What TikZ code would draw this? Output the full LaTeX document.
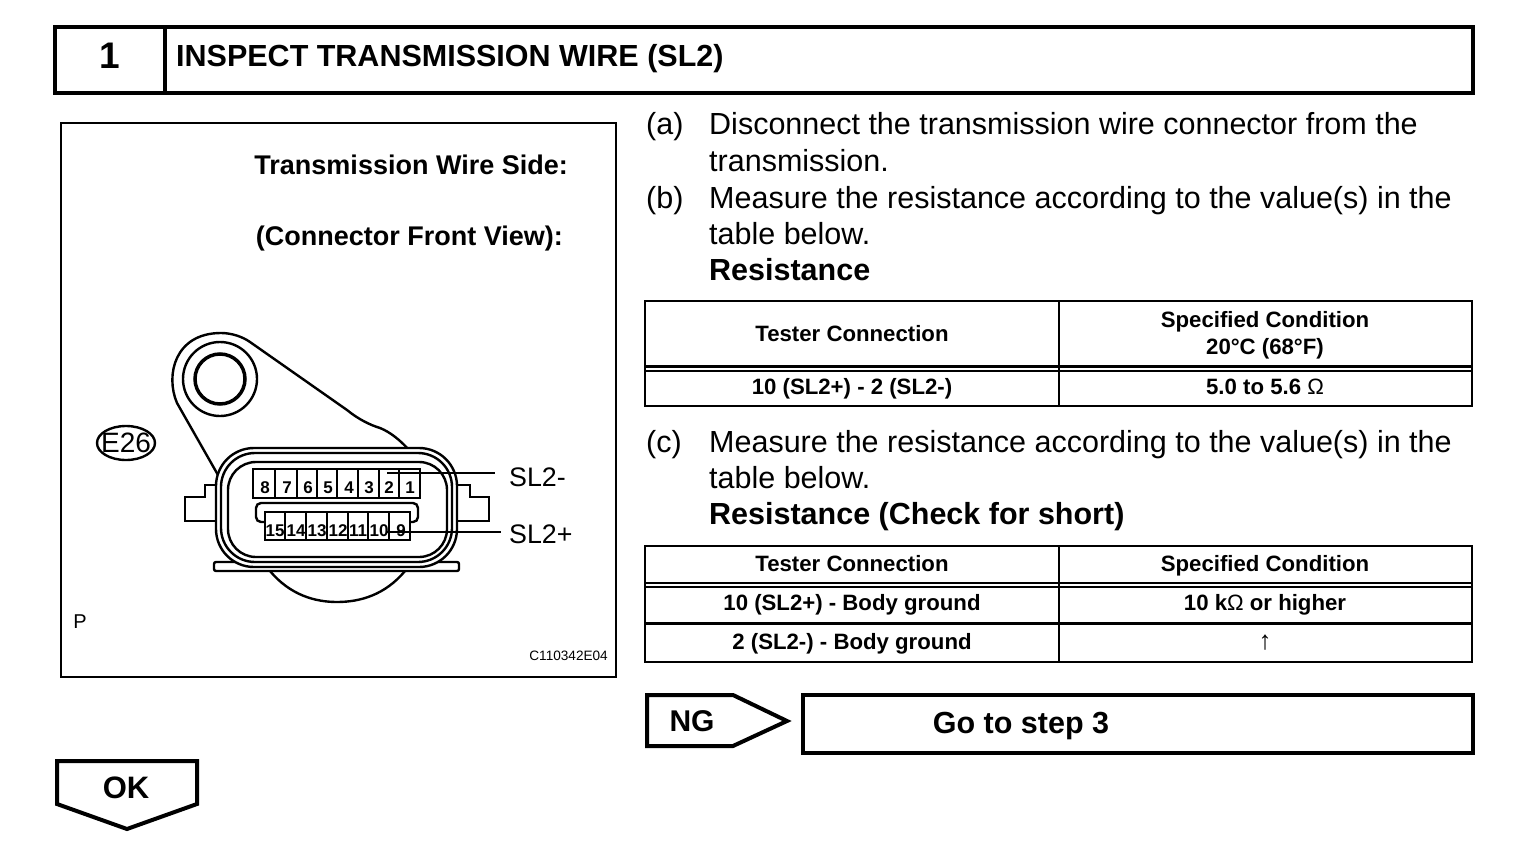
\documentclass[tikz,border=0pt]{standalone}
\usepackage{fontspec}
\setmainfont{Liberation Sans}
\usetikzlibrary{positioning, calc, shapes}
\tikzset{
  bodytext/.style={inner sep=0pt,anchor=base west,font=\fontsize{30.5}{36}\selectfont},
  headtext/.style={inner sep=0pt,anchor=base west,font=\fontsize{30.5}{36}\selectfont\bfseries},
  celltext/.style={inner sep=0pt,anchor=base,font=\fontsize{22.2}{27}\selectfont\bfseries},
  figtext/.style={inner sep=0pt,anchor=base east,font=\fontsize{27}{30}\selectfont\bfseries},
  pintext/.style={inner sep=0pt,anchor=base,font=\fontsize{17}{17}\selectfont\bfseries},
  thickbox/.style={line width=4pt},
  thinbox/.style={line width=2pt},
  wire/.style={line width=2.4pt}
}
\begin{document}
\begin{tikzpicture}[x=1pt,y=-1pt]
        \useasboundingbox (0,0) rectangle (1536,856);
        % Title bar
        \draw[thickbox] (55,27) rectangle (1473,93);
        \draw[thickbox] (165,27) -- (165,93);
        \draw (110,69) node[inner sep=0pt,anchor=base,font=\fontsize{37}{37}\selectfont\bfseries] (step_no){1};
        \draw (176,67) node[headtext] (title){INSPECT TRANSMISSION WIRE (SL2)};
        % Figure frame
        \draw[thinbox] (61,123) rectangle (616,677);
        \draw (568,174) node[figtext] (fig_side){Transmission Wire Side:};
        \draw (563,245) node[figtext] (fig_view){(Connector Front View):};
        \draw (126,443) node[ellipse,draw,line width=2.4pt,minimum width=58pt,minimum height=34pt,inner ysep=0pt,inner xsep=-5.5pt,font=\fontsize{28}{28}\selectfont] (e26){E26};
        \draw (80,622) node[inner sep=0pt,font=\fontsize{20}{20}\selectfont] (fig_p){P};
        \draw (608,656) node[inner sep=0pt,anchor=east,font=\fontsize{13.6}{15}\selectfont] (fig_code){C110342E04};
        % Bracket
        \draw[wire] (218,475) -- (177,403) .. controls (165,375) and (175,333) .. (221,333)
          .. controls (232,333) and (243,337) .. (250,342) -- (347,410)
          .. controls (358,419) and (370,425) .. (380,428) .. controls (390,432) and (400,440) .. (408,449);
        \draw[wire] (220,379) circle (37);
        \draw[line width=3.5pt] (220,379) circle (25);
        % Tabs and base
        \draw[wire] (217,485) -- (205,485) -- (205,497) -- (185,497) -- (185,521) -- (217,521);
        \draw[wire] (457,485) -- (470,485) -- (470,497) -- (489,497) -- (489,521) -- (457,521);
        \draw[wire] (270,571) .. controls (290,595) and (315,602) .. (337,602) .. controls (360,602) and (385,595) .. (405,571);
        \draw[wire,rounded corners=2pt] (214,562) rectangle (459,571);
        % Connector shell
        \draw[wire,fill=white,rounded corners=38pt] (216,448) rectangle (457,567);
        \draw[wire,rounded corners=34pt] (221,453) rectangle (452,562);
        \draw[wire,rounded corners=28pt] (228,462) rectangle (447,557);
        % Upper pins
        \draw[wire,rounded corners=5pt] (256,503) rectangle (418,522);
        \draw[wire] (253,469) rectangle (420,498);
        \draw (265,493) node[pintext] (pin_8){8};
        \draw (287,493) node[pintext] (pin_7){7};
        \draw (308,493) node[pintext] (pin_6){6};
        \draw (328,493) node[pintext] (pin_5){5};
        \draw (349,493) node[pintext] (pin_4){4};
        \draw (369,493) node[pintext] (pin_3){3};
        \draw (389,493) node[pintext] (pin_2){2};
        \draw (410,493) node[pintext] (pin_1){1};
        \draw[thinbox] (275,469) -- (275,498) (297,469) -- (297,498) (317,469) -- (317,498) (337,469) -- (337,498);
        \draw[thinbox] (358,469) -- (358,498) (379,469) -- (379,498) (399,469) -- (399,498);
        % Lower pins
        \draw[wire,fill=white] (265,512) rectangle (410,540);
        \draw (275,536) node[pintext] (pin_15){15};
        \draw (296,536) node[pintext] (pin_14){14};
        \draw (317,536) node[pintext] (pin_13){13};
        \draw (338,536) node[pintext] (pin_12){12};
        \draw (358,536) node[pintext] (pin_11){11};
        \draw (379,536) node[pintext] (pin_10){10};
        \draw (401,536) node[pintext] (pin_9){9};
        \draw[thinbox] (285,512) -- (285,540) (306,512) -- (306,540) (327,512) -- (327,540) (348,512) -- (348,540);
        \draw[thinbox] (368,512) -- (368,540) (389,512) -- (389,540);
        % Leaders
        \draw (509,477) node[inner sep=0pt,anchor=west,font=\fontsize{26.8}{26}\selectfont] (sl2_m){SL2-};
        \draw (509,534) node[inner sep=0pt,anchor=west,font=\fontsize{26.8}{26}\selectfont] (sl2_p){SL2+};
        \coordinate (sl2_m_pin) at (387,473);
        \coordinate (sl2_p_pin) at (387,532);
        \coordinate (sl2_m_end) at (495,473);
        \coordinate (sl2_p_end) at (501,532);
        \draw[thinbox] (sl2_m_pin) -- (sl2_m_end);
        \draw[thinbox] (sl2_p_pin) -- (sl2_p_end);
        % Steps
        \draw (646,135) node[bodytext] (a_tag){(a)};
        \draw (709,135) node[bodytext] (a_l1){Disconnect the transmission wire connector from the};
        \draw (709,171) node[bodytext] (a_l2){transmission.};
        \draw (646,208) node[bodytext] (b_tag){(b)};
        \draw (709,208) node[bodytext] (b_l1){Measure the resistance according to the value(s) in the};
        \draw (709,244) node[bodytext] (b_l2){table below.};
        \draw (709,280) node[headtext] (b_l3){Resistance};
        \draw (646,452) node[bodytext] (c_tag){(c)};
        \draw (709,452) node[bodytext] (c_l1){Measure the resistance according to the value(s) in the};
        \draw (709,488) node[bodytext] (c_l2){table below.};
        \draw (709,524) node[headtext] (c_l3){Resistance (Check for short)};
        % Table one
        \draw[thinbox] (645,301) rectangle (1472,406);
        \draw[thinbox] (1059,301) -- (1059,406);
        \draw[line width=3pt] (645,366) -- (1472,366);
        \draw[thinbox] (645,370.5) -- (1472,370.5);
        \draw (852,341) node[celltext] (t1_h1){Tester Connection};
        \draw (1265,327) node[celltext] (t1_h2){Specified Condition};
        \draw (1265,354) node[celltext] (t1_h3){20°C (68°F)};
        \draw (852,394) node[celltext] (t1_c1){10 (SL2+) - 2 (SL2-)};
        \draw (1265,394) node[celltext] (t1_c2){5.0 to 5.6 {\mdseries Ω}};
        % Table two
        \draw[thinbox] (645,546) rectangle (1472,662);
        \draw[thinbox] (1059,546) -- (1059,662);
        \draw[thinbox] (645,583) -- (1472,583) (645,587) -- (1472,587);
        \draw[line width=3pt] (645,623) -- (1472,623);
        \draw (852,571) node[celltext] (t2_h1){Tester Connection};
        \draw (1265,571) node[celltext] (t2_h2){Specified Condition};
        \draw (852,610) node[celltext] (t2_c1){10 (SL2+) - Body ground};
        \draw (1265,610) node[celltext] (t2_c2){10 k{\mdseries Ω} or higher};
        \draw (852,649) node[celltext] (t2_c3){2 (SL2-) - Body ground};
        \draw (1265,649) node[celltext,font=\fontsize{26}{26}\selectfont] (t2_c4){↑};
        % Result boxes
        \draw[thickbox] (647,695) -- (733,695) -- (787,721) -- (733,746) -- (647,746) -- cycle;
        \draw (692,731) node[inner sep=0pt,anchor=base,font=\fontsize{30}{30}\selectfont\bfseries] (ng){NG};
        \draw[thickbox] (803,695) rectangle (1473,753);
        \draw (1021,733) node[inner sep=0pt,anchor=base,font=\fontsize{30.5}{30}\selectfont\bfseries] (goto){Go to step 3};
        \draw[thickbox] (57,761) -- (197,761) -- (197,804) -- (127,829) -- (57,804) -- cycle;
        \draw (126,798) node[inner sep=0pt,anchor=base,font=\fontsize{31}{31}\selectfont\bfseries] (ok){OK};
      \end{tikzpicture}
\end{document}
